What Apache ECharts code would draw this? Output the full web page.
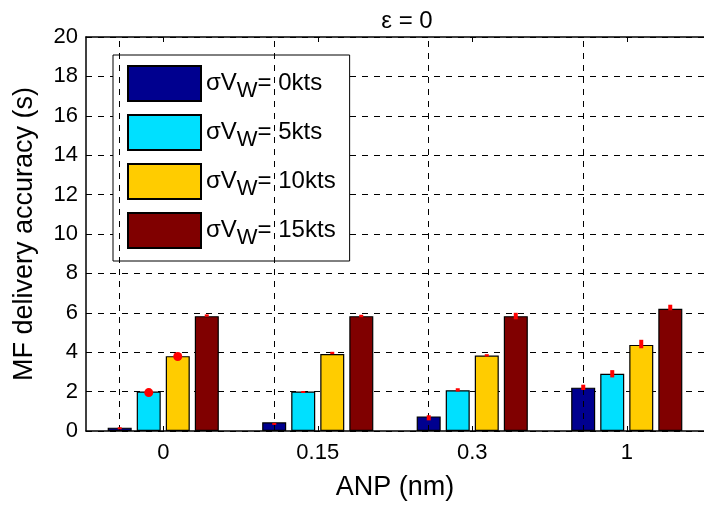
<!DOCTYPE html>
<html>
<head>
<meta charset="utf-8">
<script src="https://cdn.jsdelivr.net/npm/echarts@6/dist/echarts.min.js"></script>
<style>
  html, body { margin: 0; padding: 0; background: #fff; }
  #chart { width: 704px; height: 506px; }
</style>
</head>
<body>
<div id="chart"></div>
<script>
// categories on the x axis (ANP, nm)
const anpLabels = ['0', '0.15', '0.3', '1']
// wind speed std dev of each series
const windLabels = ['0kts', '5kts', '10kts', '15kts']
const barColors = ['#00008F', '#00E0FF', '#FFCC00', '#800000']

// mean delivery accuracy (s), one array per wind series
const sigma0 = [0.17, 0.44, 0.74, 2.2]
const sigma5 = [2.0, 2.0, 2.07, 2.9]
const sigma10 = [3.8, 3.91, 3.83, 4.37]
const sigma15 = [5.83, 5.83, 5.83, 6.2]

// red error bars: low / high per series
const errLow = [
  [0.15, 0.34, 0.54, 2.08],
  [1.95, 1.97, 2.0, 2.72],
  [3.75, 3.9, 3.78, 4.2],
  [5.8, 5.77, 5.67, 6.13]
]
const errHigh = [
  [0.19, 0.41, 0.8, 2.35],
  [2.02, 2.03, 2.17, 3.09],
  [3.82, 4.02, 3.9, 4.63],
  [5.92, 5.9, 6.0, 6.41]
]
// big red markers: [category index, series index, value]
const redDots = [[0, 1, 1.95], [0, 2, 3.78]]

const yTicks = { min: 0, max: 20, interval: 2 }

const chart = echarts.init(document.getElementById('chart'))
const font = 'Liberation Sans, Arial, sans-serif'
const barWidth = 24
const barStep = 29 // bar width + gap between bars in a group

const allValues = [sigma0, sigma5, sigma10, sigma15]

const barSeries = allValues.map((vals, i) => ({
  name: windLabels[i],
  type: 'bar',
  data: vals,
  barWidth: barWidth,
  barGap: '21%',
  itemStyle: { color: barColors[i], borderColor: '#000', borderWidth: 1.2 },
  z: 2
}))

// error bars and markers drawn on top of the bars
const errData = []
for (let s = 0; s < 4; s++) {
  for (let c = 0; c < anpLabels.length; c++) {
    errData.push([c, errLow[s][c], errHigh[s][c], s])
  }
}

const errSeries = {
  type: 'custom',
  name: 'err',
  data: errData,
  encode: { x: 0, y: [1, 2] },
  z: 5,
  renderItem (params, api) {
    const s = api.value(3)
    const offset = (s - 1.5) * barStep
    const lo = api.coord([api.value(0), api.value(1)])
    const hi = api.coord([api.value(0), api.value(2)])
    const x = lo[0] + offset
    return {
      type: 'rect',
      shape: { x: x - 2, y: hi[1], width: 4, height: Math.max(lo[1] - hi[1], 2) },
      style: { fill: '#FF0000' }
    }
  }
}

const dotSeries = {
  type: 'custom',
  name: 'dots',
  data: redDots,
  encode: { x: 0, y: 2 },
  z: 6,
  renderItem (params, api) {
    const s = api.value(1)
    const p = api.coord([api.value(0), api.value(2)])
    return {
      type: 'circle',
      shape: { cx: p[0] + (s - 1.5) * barStep, cy: p[1], r: 4.5 },
      style: { fill: '#FF0000' }
    }
  }
}

// vertical dashed grid lines at the category centres
barSeries[0].markLine = {
  silent: true,
  symbol: 'none',
  label: { show: false },
  lineStyle: { color: '#000', type: [6, 6], width: 1 },
  data: anpLabels.map(a => ({ xAxis: a }))
}

const option = {
  animation: false,
  backgroundColor: '#fff',
  textStyle: { fontFamily: font },
  title: {
    text: 'ε = 0',
    left: 402,
    top: 4,
    textAlign: 'center',
    textStyle: { fontSize: 24, fontWeight: 'normal', color: '#000', fontFamily: font }
  },
  grid: { left: 86, top: 37, width: 624, bottom: 72 },
  legend: {
    data: windLabels,
    orient: 'vertical',
    left: 113,
    top: 55,
    padding: [10, 14, 12, 14],
    itemWidth: 73,
    itemHeight: 35,
    itemGap: 12,
    backgroundColor: '#fff',
    borderColor: '#000',
    borderWidth: 1,
    icon: 'rect',
    selectedMode: false,
    formatter: name => '{a|σV}{b|W}{a|= ' + name + '}',
    textStyle: {
      color: '#000',
      rich: {
        a: { fontSize: 24, fontFamily: font, color: '#000', lineHeight: 26 },
        b: { fontSize: 22, fontFamily: font, color: '#000', padding: [14, 0, 0, 0] }
      }
    }
  },
  xAxis: [
    {
      type: 'category',
      data: anpLabels,
      name: 'ANP (nm)',
      nameLocation: 'middle',
      nameGap: 43,
      nameTextStyle: { fontSize: 27, color: '#000', fontFamily: font },
      axisLine: { lineStyle: { color: '#000', width: 1.5 } },
      axisTick: { show: true, alignWithLabel: true, inside: true, length: 5, lineStyle: { color: '#000' } },
      axisLabel: { fontSize: 22, color: '#000', margin: 11, fontFamily: font },
      splitLine: { show: false }
    },
    {
      type: 'category',
      data: anpLabels,
      position: 'top',
      axisLine: { lineStyle: { color: '#000', width: 1.5 } },
      axisTick: { show: true, alignWithLabel: true, inside: true, length: 5, lineStyle: { color: '#000' } },
      axisLabel: { show: false },
      splitLine: { show: false }
    }
  ],
  yAxis: {
    type: 'value',
    min: yTicks.min,
    max: yTicks.max,
    interval: yTicks.interval,
    name: 'MF delivery accuracy (s)',
    nameLocation: 'middle',
    nameGap: 48,
    nameTextStyle: { fontSize: 27, color: '#000', fontFamily: font },
    axisLine: { show: true, lineStyle: { color: '#000', width: 1.5 } },
    axisTick: { show: true, inside: true, length: 5, lineStyle: { color: '#000' } },
    axisLabel: { fontSize: 22, color: '#000', margin: 8, fontFamily: font },
    splitLine: { show: true, lineStyle: { color: '#000', type: [6, 6], width: 1 } }
  },
  series: [...barSeries, errSeries, dotSeries]
}

chart.setOption(option)
</script>
</body>
</html>
